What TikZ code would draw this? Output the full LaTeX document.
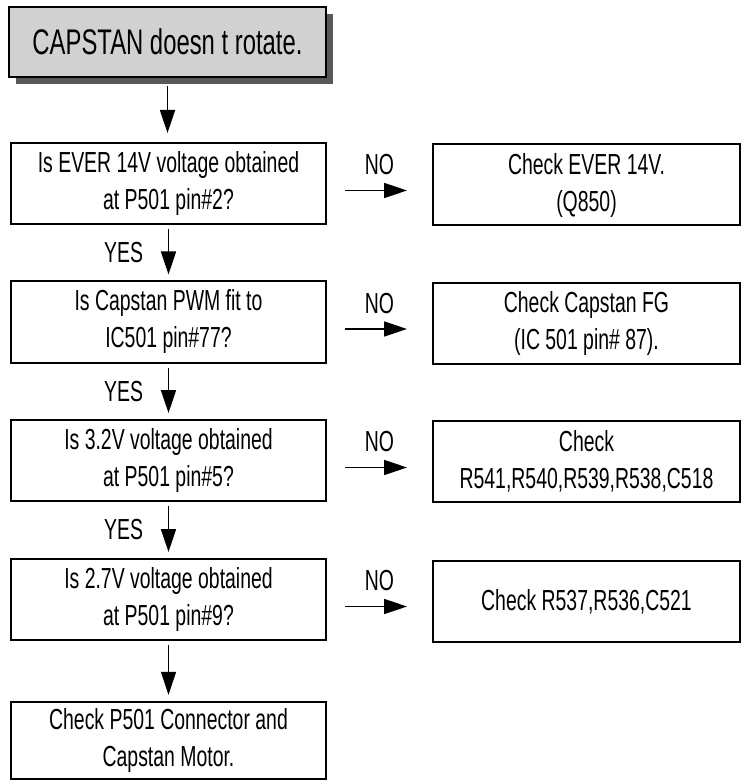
\documentclass[tikz,border=0pt]{standalone}
\usepackage{fontspec}
\setmainfont[FakeStretch=0.67]{Liberation Sans}
\usetikzlibrary{arrows.meta,shadows}

\newcommand{\chartfont}{\fontsize{14.5}{18.5}\selectfont}
\newcommand{\titlefont}{\fontsize{17.8}{20}\selectfont}

\begin{document}
\begin{tikzpicture}[x=0.5pt,y=-0.5pt,
  startbox/.style={draw, line width=1pt, fill=black!18, minimum width=158.5pt, minimum height=35pt,
    font=\titlefont, drop shadow={shadow xshift=3.5pt, shadow yshift=-3.5pt, fill=black!65, opacity=1}},
  qbox/.style={draw, line width=1pt, minimum width=157.5pt, minimum height=40.5pt, align=center, font=\chartfont},
  fixbox/.style={draw, line width=1pt, minimum width=153.5pt, minimum height=40.5pt, align=center, font=\chartfont},
  arr/.style={-{Triangle[length=11.5pt,width=7.5pt]}, line width=0.8pt, shorten <=2pt, shorten >=3pt},
  noarr/.style={arr, shorten <=9pt, shorten >=12.5pt},
  lbl/.style={font=\chartfont}]
\useasboundingbox (0,0) rectangle (741,780);

\node[startbox] (start) at (167.5,42) {CAPSTAN doesn t rotate.};

\node[qbox] (q1) at (168.5,183.5) {Is EVER 14V voltage obtained\\at P501 pin\#2?};
\node[qbox] (q2) at (168.5,322) {Is Capstan PWM fit to\\IC501 pin\#77?};
\node[qbox] (q3) at (168.5,460.5) {Is 3.2V voltage obtained\\at P501 pin\#5?};
\node[qbox] (q4) at (168.5,599.5) {Is 2.7V voltage obtained\\at P501 pin\#9?};
\node[qbox, minimum height=37.5pt] (final) at (168.5,740.5) {Check P501 Connector and\\Capstan Motor.};

\node[fixbox] (fix1) at (586.5,185) {Check EVER 14V.\\(Q850)};
\node[fixbox] (fix2) at (586.5,323.5) {Check Capstan FG\\(IC 501 pin\# 87).};
\node[fixbox] (fix3) at (586.5,461.5) {Check\\R541,R540,R539,R538,C518};
\node[fixbox] (fix4) at (586.5,601.5) {Check R537,R536,C521};

\draw[arr, shorten <=4pt, shorten >=4.5pt] (start.south) -- (start.south |- q1.north);
\draw[arr] (q1.south) -- (q2.north) node[lbl, midway, left=9pt] {YES};
\draw[arr] (q2.south) -- (q3.north) node[lbl, midway, left=9pt] {YES};
\draw[arr] (q3.south) -- (q4.north) node[lbl, midway, left=9pt] {YES};
\draw[arr] (q4.south) -- (final.north);

\draw[noarr] ([yshift=-3.5pt]q1.east) -- ([yshift=-3.5pt]q1.east -| fix1.west) node[lbl, midway, above=4pt] {NO};
\draw[noarr] ([yshift=-3.5pt]q2.east) -- ([yshift=-3.5pt]q2.east -| fix2.west) node[lbl, midway, above=4pt] {NO};
\draw[noarr] ([yshift=-3.5pt]q3.east) -- ([yshift=-3.5pt]q3.east -| fix3.west) node[lbl, midway, above=4pt] {NO};
\draw[noarr] ([yshift=-3.5pt]q4.east) -- ([yshift=-3.5pt]q4.east -| fix4.west) node[lbl, midway, above=4pt] {NO};
\end{tikzpicture}
\end{document}
